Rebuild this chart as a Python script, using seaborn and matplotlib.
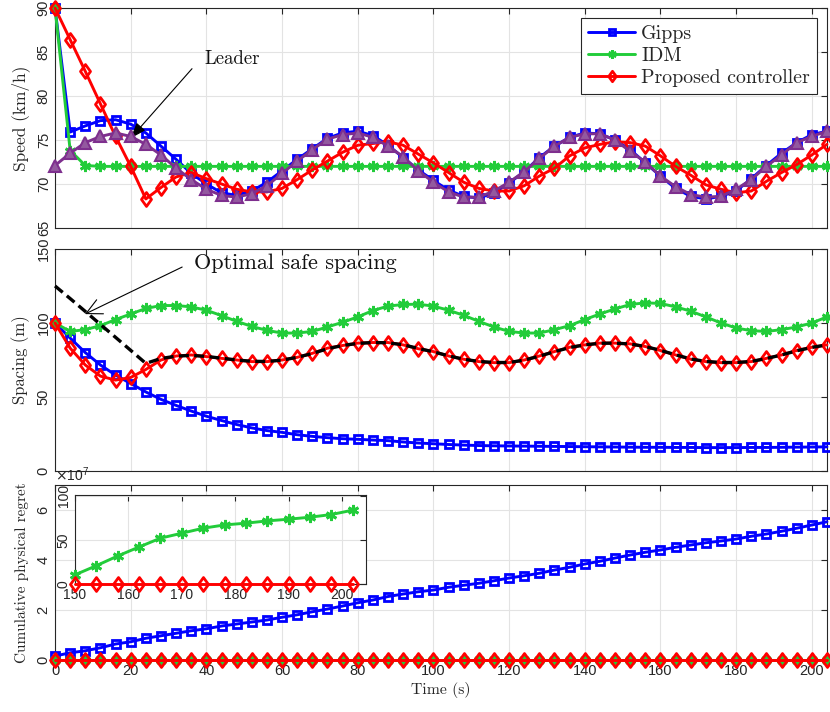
import numpy as np
import pandas as pd
import matplotlib
matplotlib.use("Agg")
import matplotlib.pyplot as plt
import seaborn as sns
from matplotlib.path import Path

# ---------------- data ----------------
time_s = [0, 4, 8, 12, 16, 20, 24, 28, 32, 36, 40, 44, 48, 52, 56, 60, 64, 68, 72, 76,
          80, 84, 88, 92, 96, 100, 104, 108, 112, 116, 120, 124, 128, 132, 136, 140, 144,
          148, 152, 156, 160, 164, 168, 172, 176, 180, 184, 188, 192, 196, 200, 204]

speed_leader = [72.1, 73.5, 74.7, 75.4, 75.8, 75.4, 74.5, 73.3, 71.8, 70.5, 69.4, 68.7, 68.5,
                68.9, 69.8, 71.2, 72.6, 73.9, 75.1, 75.6, 75.8, 75.3, 74.3, 73.1, 71.5, 70.2,
                69.1, 68.5, 68.5, 69.2, 70.2, 71.4, 72.9, 74.3, 75.3, 75.7, 75.7, 75.0, 73.7,
                72.5, 70.9, 69.7, 68.8, 68.5, 68.6, 69.4, 70.5, 72.0, 73.3, 74.7, 75.4, 76.0]
speed_gipps = [90.0, 75.9, 76.6, 77.2, 77.3, 76.8, 75.8, 74.3, 72.8, 71.2, 70.0, 69.0, 68.7,
               69.2, 70.2, 71.5, 72.8, 74.0, 75.2, 75.8, 76.0, 75.5, 74.4, 73.0, 71.6, 70.4,
               69.3, 68.6, 68.4, 69.0, 70.1, 71.4, 73.0, 74.3, 75.3, 75.8, 75.7, 75.0, 73.9,
               72.4, 70.9, 69.5, 68.6, 68.3, 68.6, 69.2, 70.6, 72.1, 73.5, 74.7, 75.6, 76.0]
speed_idm = [90.0, 73.8, 72.1, 72.0, 72.0, 72.0, 72.0, 72.0, 72.0, 72.0, 72.0, 72.0, 72.0,
             72.0, 72.0, 72.0, 72.0, 72.0, 72.0, 72.0, 72.0, 72.0, 72.0, 72.0, 72.0, 72.0,
             72.0, 72.0, 72.0, 72.0, 72.0, 72.0, 72.0, 72.0, 72.0, 72.0, 72.0, 72.0, 72.0,
             72.0, 72.0, 72.0, 72.0, 72.0, 72.0, 72.0, 72.0, 72.0, 72.0, 72.0, 72.0, 72.0]
speed_prop = [90.0, 86.4, 82.8, 79.1, 75.4, 72.0, 68.3, 69.6, 70.8, 71.3, 70.6, 70.0, 69.4,
              69.1, 69.1, 69.5, 70.5, 71.6, 72.6, 73.6, 74.4, 74.6, 74.8, 74.4, 73.4, 72.4,
              71.3, 70.2, 69.5, 69.2, 69.2, 69.8, 70.9, 71.8, 73.2, 74.1, 74.5, 74.8, 74.7,
              74.3, 73.2, 72.0, 71.0, 69.9, 69.4, 69.0, 69.2, 70.3, 71.3, 72.2, 73.3, 74.5]

spacing_gipps = [100.0, 89.8, 80.0, 71.6, 64.8, 59.1, 53.4, 48.4, 44.3, 40.5, 37.0, 34.1, 31.4,
                 29.1, 27.3, 26.1, 24.5, 23.4, 22.5, 21.8, 21.4, 20.9, 20.5, 19.6, 18.9, 18.4,
                 17.9, 17.5, 17.2, 17.0, 16.9, 16.8, 16.7, 16.6, 16.5, 16.4, 16.3, 16.2, 16.1,
                 16.0, 16.0, 15.9, 15.9, 15.8, 15.8, 15.8, 15.9, 15.9, 16.0, 16.1, 16.2, 16.3]
spacing_idm = [100.0, 94.3, 95.5, 98.2, 102.3, 106.1, 109.8, 111.8, 111.8, 110.9, 108.6, 105.0,
               101.1, 97.7, 95.0, 93.2, 93.2, 94.3, 97.3, 100.5, 104.1, 108.4, 111.4, 112.5,
               112.7, 111.4, 108.6, 105.2, 101.1, 97.3, 94.3, 93.2, 93.2, 95.5, 98.2, 102.3,
               106.1, 109.5, 112.5, 113.6, 113.2, 110.9, 108.0, 104.1, 100.0, 96.6, 94.8, 94.3,
               95.5, 97.3, 100.0, 104.1]
spacing_prop = [100.0, 83.0, 71.6, 64.1, 61.4, 63.2, 68.6, 75.0, 77.7, 78.4, 77.3, 76.1, 75.0,
                73.9, 73.9, 75.0, 76.8, 79.5, 83.0, 84.8, 86.4, 86.8, 86.8, 85.2, 82.6, 80.7,
                77.7, 75.5, 73.9, 73.2, 73.2, 75.0, 77.7, 80.7, 83.6, 85.2, 86.4, 86.4, 85.9,
                84.1, 81.4, 78.4, 75.5, 73.9, 73.2, 73.2, 73.9, 76.1, 78.4, 81.4, 83.6, 85.2]
spacing_opt = [125.0, 116.5, 107.8, 99.0, 90.3, 81.5, 72.7, 76.0, 77.6, 78.1, 77.4, 76.2, 75.0,
               74.1, 74.0, 74.9, 76.8, 79.4, 82.6, 84.8, 86.2, 86.8, 86.6, 85.3, 82.8, 80.5,
               77.8, 75.5, 74.0, 73.3, 73.3, 74.9, 77.6, 80.6, 83.4, 85.2, 86.3, 86.4, 85.8,
               84.1, 81.5, 78.5, 75.7, 74.0, 73.3, 73.3, 74.0, 76.0, 78.4, 81.2, 83.5, 85.2]

regret_gipps = [0.16e7, 0.29e7, 0.37e7, 0.49e7, 0.64e7, 0.73e7, 0.87e7, 0.97e7, 1.07e7, 1.17e7,
                1.25e7, 1.36e7, 1.44e7, 1.52e7, 1.60e7, 1.71e7, 1.81e7, 1.93e7, 2.04e7, 2.16e7,
                2.29e7, 2.40e7, 2.54e7, 2.64e7, 2.73e7, 2.80e7, 2.91e7, 2.99e7, 3.07e7, 3.17e7,
                3.28e7, 3.37e7, 3.47e7, 3.60e7, 3.71e7, 3.84e7, 3.95e7, 4.08e7, 4.20e7, 4.31e7,
                4.40e7, 4.51e7, 4.60e7, 4.69e7, 4.76e7, 4.84e7, 4.95e7, 5.04e7, 5.15e7, 5.27e7,
                5.40e7, 5.53e7]
regret_idm = [0, 1, 2, 3, 5, 6, 8, 9, 10, 12, 13, 14, 15, 16, 17, 18, 19, 20, 21, 22, 23, 24,
              25, 26, 27, 28, 29, 30, 31, 32, 33, 34, 35, 36, 37, 38, 39, 40, 42, 45, 48, 52,
              57, 61, 65, 68, 70, 72, 74, 77, 80, 84]
regret_prop = [0, 0, 0, 0, 0, 0, 0, 0, 0, 0, 0, 0, 0, 0, 0, 0, 0, 0, 0, 0, 0, 0, 0, 0, 0, 0,
               0, 0, 0, 0, 0, 0, 0, 0, 0, 0, 0, 0, 0, 0, 0, 0, 0, 0, 0, 0, 0, 0, 0, 0, 0, 0]

inset_time = [150, 154, 158, 162, 166, 170, 174, 178, 182, 186, 190, 194, 198, 202]
inset_regret_idm = [10.4, 20.8, 31.8, 42.0, 52.0, 57.6, 63.3, 67.0, 69.0, 71.6, 73.5, 75.8,
                    78.8, 83.8]
inset_regret_prop = [0, 0, 0, 0, 0, 0, 0, 0, 0, 0, 0, 0, 0, 0]

speed_ticks = [65, 70, 75, 80, 85, 90]
spacing_ticks = [0, 50, 100, 150]
regret_ticks = [0, 2e7, 4e7, 6e7]
time_ticks = [0, 20, 40, 60, 80, 100, 120, 140, 160, 180, 200]
inset_xticks = [150, 160, 170, 180, 190, 200]
inset_yticks = [0, 50, 100]

# ---------------- style ----------------
sns.set_theme(style="whitegrid")
plt.rcParams.update({
    "font.family": ["Liberation Sans", "DejaVu Sans"],
    "mathtext.fontset": "dejavusans",
    "axes.edgecolor": "#262626",
    "axes.linewidth": 0.8,
    "grid.color": "#e3e3e3",
    "grid.linewidth": 0.8,
    "xtick.color": "#262626",
    "ytick.color": "#262626",
})
SERIF = "cmr10"

BLUE = "#0000ff"
GREEN = "#22cc3a"
RED = "#ff0000"
PURPLE = "#7e2f8e"
diamond = Path([(0, 1), (0.72, 0), (0, -1), (-0.72, 0), (0, 1)],
               [Path.MOVETO, Path.LINETO, Path.LINETO, Path.LINETO, Path.CLOSEPOLY])
asterisk = (6, 2, 0)

df = pd.DataFrame({
    "t": time_s, "sl": speed_leader, "sg": speed_gipps, "si": speed_idm, "sp": speed_prop,
    "dg": spacing_gipps, "di": spacing_idm, "dp": spacing_prop, "do": spacing_opt,
    "rg": regret_gipps, "ri": regret_idm, "rp": regret_prop,
})
dfi = pd.DataFrame({"t": inset_time, "ri": inset_regret_idm, "rp": inset_regret_prop})

SQ = dict(marker="s", ms=6.2, mfc="none", mew=2.0)
AS = dict(marker=asterisk, ms=8, mfc=GREEN, mew=2.0)
DI = dict(marker=diamond, ms=10, mfc="none", mew=2.0)


def draw(ax, data, col, color, marker=None, ms=0, mfc=None, mew=1.5, label=None,
         lw=2.1, ls="-", z=3):
    kws = dict(color=color, linewidth=lw, linestyle=ls, clip_on=False, zorder=z)
    if marker is not None:
        kws.update(marker=marker, markersize=ms, markerfacecolor=mfc,
                   markeredgecolor=color, markeredgewidth=mew)
    if label is not None:
        kws["label"] = label
    sns.lineplot(data=data, x="t", y=col, ax=ax, estimator=None, errorbar=None,
                 sort=False, **kws)


def style_axis(ax, xlim, ylim, xticks, yticks, show_xlabels, tsize=10.5):
    ax.set_xlim(*xlim)
    ax.set_ylim(*ylim)
    ax.set_xticks(xticks)
    ax.set_yticks(yticks)
    ax.set_facecolor("white")
    ax.grid(True, which="major")
    ax.set_axisbelow(True)
    for s in ax.spines.values():
        s.set_visible(True)
        s.set_color("#262626")
        s.set_linewidth(0.8)
    ax.tick_params(direction="in", top=True, right=True, length=4, width=0.8,
                   labelsize=tsize, pad=3)
    ax.tick_params(axis="y", labelrotation=90)
    for lab in ax.get_yticklabels():
        lab.set_va("center")
    if not show_xlabels:
        ax.tick_params(axis="x", labelbottom=False)
    ax.set_xlabel("")
    ax.set_ylabel("")
    leg = ax.get_legend()
    if leg is not None:
        leg.remove()


fig = plt.figure(figsize=(8.30, 7.12), dpi=100)
ax1 = fig.add_axes([0.0663, 0.6798, 0.930, 0.309])
ax2 = fig.add_axes([0.0663, 0.3385, 0.930, 0.3118])
ax3 = fig.add_axes([0.0663, 0.0730, 0.930, 0.2458])
ax4 = fig.add_axes([0.0904, 0.1798, 0.3506, 0.125])

# ---- speed ----
draw(ax1, df, "sg", BLUE, label="Gipps", **SQ)
draw(ax1, df, "si", GREEN, label="IDM", **AS)
draw(ax1, df, "sp", RED, label="Proposed controller", **DI)
draw(ax1, df, "sl", PURPLE, marker="^", ms=8.5, mfc="#93599f", mew=1.5, z=4)
style_axis(ax1, (0, 204), (65, 90), time_ticks, speed_ticks, False)
h, l = ax1.get_legend_handles_labels()
leg = ax1.legend(h[:3], l[:3], loc="upper right", prop={"family": SERIF, "size": 14.3},
                 frameon=True, fancybox=False, framealpha=1, edgecolor="#262626",
                 handlelength=2.4, borderpad=0.35, labelspacing=0.2, handletextpad=0.3,
                 borderaxespad=0.5, markerscale=0.75)
leg.get_frame().set_linewidth(0.8)
ax1.set_ylabel("Speed (km/h)", family=SERIF, fontsize=12.5, color="#262626", labelpad=5)
ax1.annotate("", xy=(20, 75.2), xytext=(36.2, 83.1),
             arrowprops=dict(arrowstyle="-|>,head_length=0.6,head_width=0.22",
                             color="black", lw=0.8, mutation_scale=16,
                             shrinkA=0, shrinkB=0))
ax1.text(39.4, 84.2, "Leader", family=SERIF, fontsize=13.5, ha="left", va="center",
         color="#111111")

# ---- spacing ----
draw(ax2, df, "dg", BLUE, **SQ)
draw(ax2, df, "di", GREEN, **AS)
draw(ax2, df, "dp", RED, **DI)
draw(ax2, df, "do", "black", lw=2.4, ls=(0, (3, 1.6)), z=4)
style_axis(ax2, (0, 204), (0, 150), time_ticks, spacing_ticks, False)
ax2.set_ylabel("Spacing (m)", family=SERIF, fontsize=12, color="#262626", labelpad=5)
ax2.annotate("", xy=(7.9, 106), xytext=(33.6, 137.8),
             arrowprops=dict(arrowstyle="->,head_length=0.7,head_width=0.35",
                             color="black", lw=0.8, mutation_scale=16,
                             shrinkA=0, shrinkB=0))
ax2.text(36.7, 140.5, "Optimal safe spacing", family=SERIF, fontsize=16, ha="left",
         va="center", color="#111111")

# ---- regret ----
draw(ax3, df, "rg", BLUE, **SQ)
draw(ax3, df, "ri", GREEN, **AS)
draw(ax3, df, "rp", RED, **DI)
style_axis(ax3, (0, 204), (0, 7e7), time_ticks, regret_ticks, True)
ax3.ticklabel_format(axis="y", style="sci", scilimits=(7, 7), useMathText=True)
ax3.yaxis.get_offset_text().set_fontsize(10)
ax3.set_ylabel("Cumulative physical regret", family=SERIF, fontsize=11, color="#262626",
               labelpad=6)
ax3.set_xlabel("Time (s)", family=SERIF, fontsize=11.3, color="#262626", labelpad=3)

# ---- inset ----
draw(ax4, dfi, "ri", GREEN, **AS)
draw(ax4, dfi, "rp", RED, **DI)
style_axis(ax4, (150, 204.5), (0, 101), inset_xticks, inset_yticks, True, tsize=10)

fig.savefig("out.png", dpi=100)
